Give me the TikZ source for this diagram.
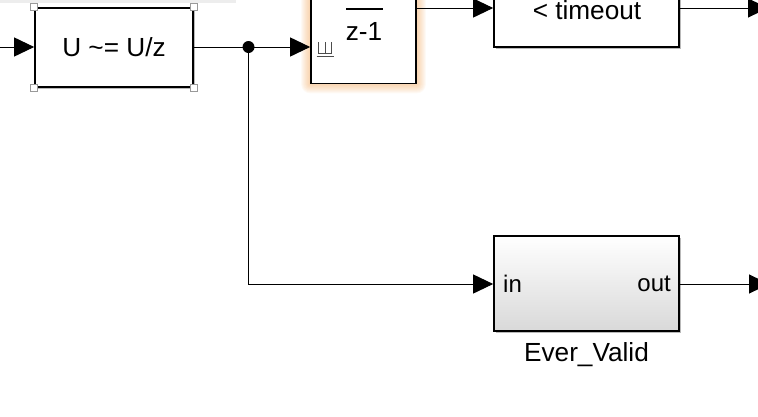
\documentclass[tikz,border=0pt]{standalone}
\usepackage{fontspec}
\setmainfont{Liberation Sans}
\usetikzlibrary{arrows.meta,shadows,calc,backgrounds}
\definecolor{glow}{RGB}{240,155,70}
\begin{document}
\begin{tikzpicture}[x=1pt,y=-1pt,
  blk/.style={draw=black, line width=1.7pt, fill=white, inner sep=0pt,
    drop shadow={opacity=0.55, shadow xshift=1.6pt, shadow yshift=-1.6pt}},
  wire/.style={line width=1pt},
  conn/.style={line width=1pt, -{Triangle[length=20pt,width=19pt]}},
  txt/.style={font=\fontsize{26.2}{30}\selectfont, inner sep=0pt},
  porttxt/.style={font=\fontsize{24}{28}\selectfont, inner sep=0pt},
  handle/.style={draw=black!40, fill=white, line width=1pt, minimum size=7.5pt, inner sep=0pt}
]
\path[use as bounding box] (0,0) rectangle (758,416);
\clip (0,0) rectangle (758,416);

% faint strip along the top edge
\fill[black!7] (0,0) rectangle (236,2.5);

% blocks
\node[blk, minimum width=158pt, minimum height=79pt] (delay) at (114,47.5) {};
\node[txt] (delaytxt) at (delay.center) {U \textasciitilde= U/z};
\foreach \c in {north west, north east, south west, south east}
  \node[handle] at (delay.\c) {};

\node[draw=black, line width=1.7pt, fill=white, inner sep=0pt,
      minimum width=105pt, minimum height=114pt] (integ) at (363.5,26.5) {};
\begin{scope}[on background layer]
  \foreach \i in {1,...,9}
    \fill[glow, fill opacity=0.055, rounded corners=\i pt]
      ($(integ.south west)+(-\i,\i)$) rectangle ($(integ.north east)+(\i,-\i)$);
\end{scope}
\draw[line width=1.3pt] (346,9) -- (383,9);
\node[txt] (integtxt) at (364,31) {z-1};
% reset port glyph
\draw[black!70, line width=0.9pt] (318.3,42) -- (318.3,53) -- (331.7,53) -- (331.7,42)
  (325,42) -- (325,53) (316.5,56.5) -- (333.5,56.5);

\node[blk, minimum width=185pt, minimum height=80pt] (cmp) at (586.5,7) {};
\node[txt] (cmptxt) at (587,10) {< timeout};

\node[blk, top color=white, bottom color=black!15, minimum width=185pt, minimum height=95pt]
  (ever) at (586.5,283.5) {};
\node[porttxt, anchor=west] (evin) at (503,284) {in};
\node[porttxt, anchor=east] (evout) at (671,284) {out};
\node[txt] (evlabel) at (586.5,355) {Ever\_Valid};

% connection points
\coordinate (src) at (0,47);
\coordinate (junc) at (248.5,47);
\coordinate (bend) at (248.5,284);
\coordinate (out1) at (768,8);
\coordinate (out2) at (769,284);

% connectors
\draw[conn] (src) -- (delay.west |- src);
\draw[wire] (delay.east |- junc) -- (junc);
\draw[conn] (junc) -- (integ.west |- junc);
\fill (junc) circle[radius=6pt];
\draw[conn] (integ.east |- out1) -- (cmp.west |- out1);
\draw[conn] (cmp.east |- out1) -- (out1);
\draw[conn] (junc) -- (bend) -- (ever.west |- bend);
\draw[conn] (ever.east |- out2) -- (out2);
\end{tikzpicture}
\end{document}
